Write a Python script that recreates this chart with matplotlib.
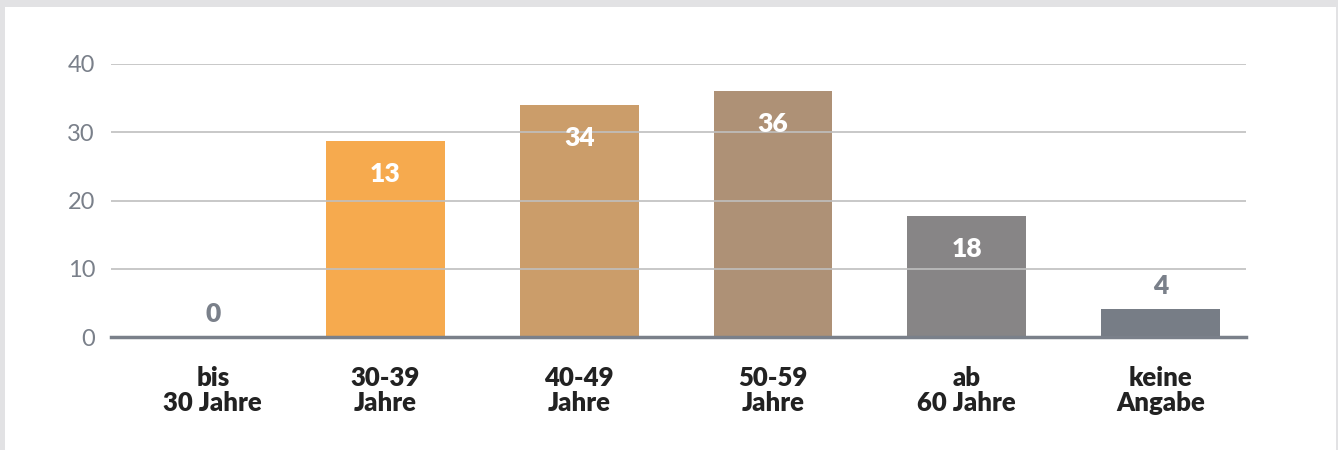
import matplotlib
matplotlib.use("Agg")
import matplotlib.pyplot as plt
from matplotlib.patches import Rectangle
import numpy as np

# data
categories = ["bis\n30 Jahre", "30-39\nJahre", "40-49\nJahre", "50-59\nJahre", "ab\n60 Jahre", "keine\nAngabe"]
heights = [0, 28.7, 34.0, 36.0, 17.8, 4.1]
labels = ["0", "13", "34", "36", "18", "4"]
colors = ["#f6aa4e", "#f6aa4e", "#cb9d6a", "#ae9176", "#878586", "#777d86"]
yticks = [0, 10, 20, 30, 40]

plt.rcParams["font.family"] = ["Lato", "DejaVu Sans"]

fig = plt.figure(figsize=(13.38, 4.5), dpi=100)
fig.patch.set_facecolor("#e2e2e4")
fig.patches.append(Rectangle((5 / 1338, 0), (1336 - 5) / 1338, 1 - 7 / 450,
                             transform=fig.transFigure, facecolor="white",
                             edgecolor="none", zorder=-10))

ax = fig.add_axes([111 / 1338, 1 - 337 / 450, (1246 - 111) / 1338, (337 - 64) / 450])
ax.set_facecolor("none")

# first group sits a little closer to the second in the original
x = np.arange(len(categories), dtype=float)
x[0] += 0.11
ax.bar(x, heights, width=0.613, color=colors, zorder=2)

ax.set_xlim(-0.415, 5.44)
ax.set_ylim(0, 40)
ax.set_yticks(yticks)
ax.yaxis.grid(True, color="#bfbfbf", linewidth=1.2, zorder=3)
ax.set_axisbelow(False)

for s in ["top", "right", "left"]:
    ax.spines[s].set_visible(False)
ax.spines["bottom"].set_color("#7a808a")
ax.spines["bottom"].set_linewidth(2.5)
ax.spines["bottom"].set_zorder(4)

ax.tick_params(axis="y", length=0, pad=11.5, labelsize=17, labelcolor="#7a808a")
ax.tick_params(axis="x", length=0, pad=21)
ax.set_xticks(x)
ax.set_xticklabels(categories, fontsize=18.5, fontweight="heavy", color="#222222",
                   linespacing=1.03)

for xi, h, lab in zip(x, heights, labels):
    if h > 8:
        ax.annotate(lab, (xi, h), xytext=(0, -33), textcoords="offset pixels",
                    ha="center", va="center", fontsize=19, fontweight="heavy",
                    color="white", zorder=5)
    else:
        ax.annotate(lab, (xi, h), xytext=(0, 23), textcoords="offset pixels",
                    ha="center", va="center", fontsize=19, fontweight="heavy",
                    color="#7a808a", zorder=5)

fig.savefig("out.png", dpi=100, facecolor=fig.get_facecolor())
